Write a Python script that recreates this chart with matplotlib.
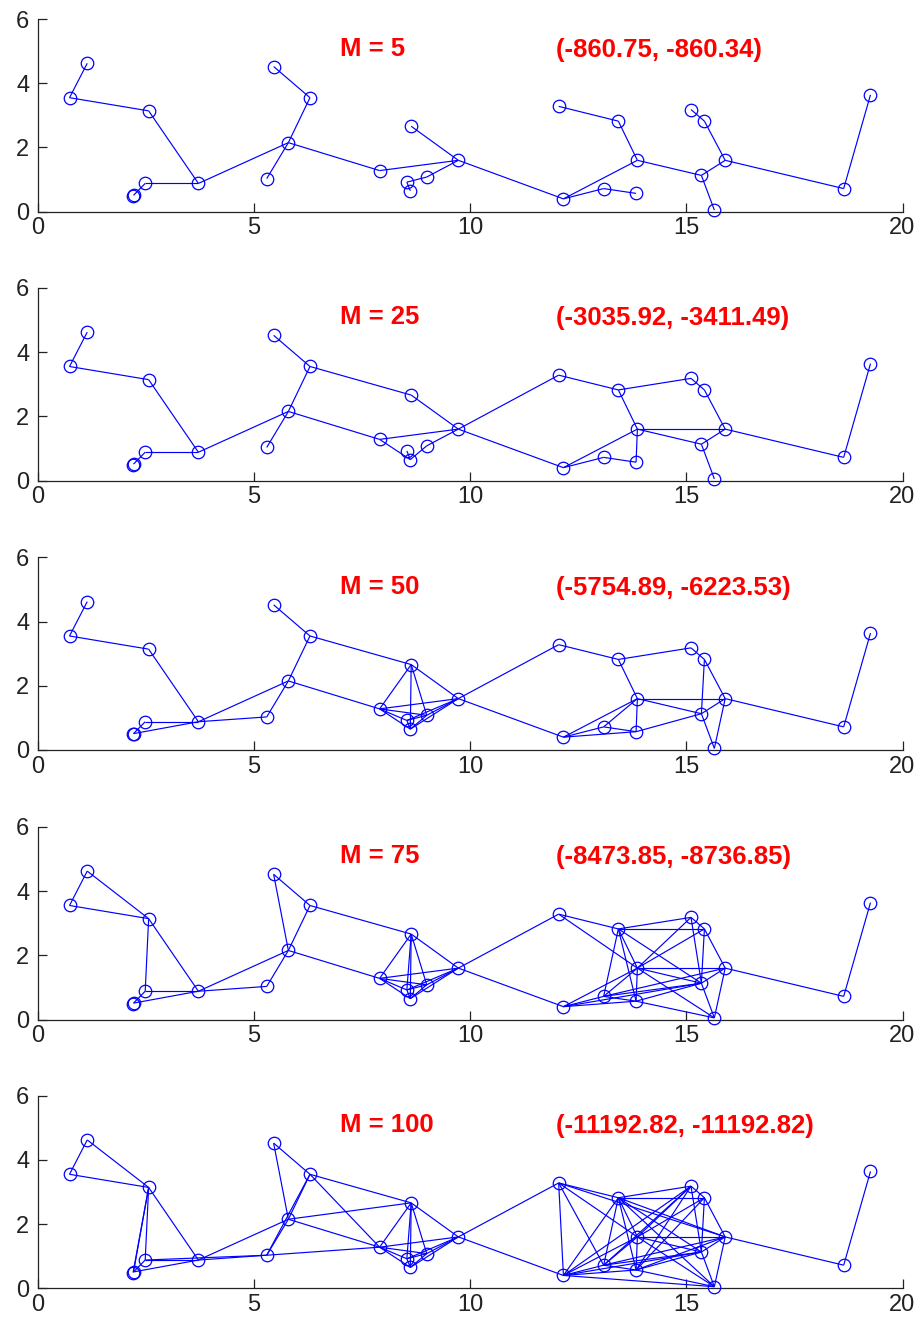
import matplotlib
matplotlib.use("Agg")
import matplotlib.pyplot as plt
from matplotlib.collections import LineCollection

plt.rcParams['font.family'] = ['Liberation Sans', 'DejaVu Sans']

# ---- data ----
node_names = ["A", "B", "C", "D", "E", "F", "F2", "G", "H", "I", "J", "K", "L", "N", "O", "P", "Q",
              "R", "S", "T", "U", "V", "W", "X", "Y", "Z", "AA", "AB", "AC", "AD"]
node_x = [1.15, 0.74, 2.57, 3.72, 2.49, 2.22, 2.21, 5.46, 6.30, 5.80, 5.30, 7.91, 8.64, 9.73, 9.00, 8.54, 8.62,
          12.05, 13.43, 13.87, 12.16, 13.09, 13.84, 15.11, 15.42, 15.90, 15.35, 15.65, 18.64, 19.26]
node_y = [4.62, 3.55, 3.14, 0.88, 0.88, 0.51, 0.49, 4.52, 3.55, 2.15, 1.03, 1.28, 2.66, 1.60, 1.08, 0.92, 0.65,
          3.28, 2.82, 1.60, 0.40, 0.72, 0.57, 3.18, 2.82, 1.60, 1.13, 0.05, 0.72, 3.64]

m_values = [5, 25, 50, 75, 100]
score_labels = ["(-860.75, -860.34)", "(-3035.92, -3411.49)", "(-5754.89, -6223.53)",
                "(-8473.85, -8736.85)", "(-11192.82, -11192.82)"]

edges_m5 = ["A-B", "B-C", "C-D", "D-E", "E-F", "D-I", "G-H", "H-I", "I-J", "I-K", "K-N", "L-N",
            "N-O", "O-P", "P-Q", "N-U", "U-T", "U-V", "V-W", "R-S", "S-T", "T-AA", "AA-Z", "Z-Y",
            "Y-X", "AA-AB", "Z-AC", "AC-AD"]
edges_m25 = ["A-B", "B-C", "C-D", "D-E", "E-F", "D-I", "G-H", "H-I", "I-J", "I-K", "H-L", "L-N",
             "K-N", "K-Q", "N-O", "O-Q", "P-Q", "N-R", "N-U", "R-S", "S-X", "S-T", "T-Z", "T-AA",
             "U-T", "U-V", "V-W", "W-T", "Y-Z", "Z-AA", "AA-AB", "Z-AC", "AC-AD", "X-Y"]
edges_m50 = ["A-B", "B-C", "C-D", "D-E", "E-F", "D-F", "D-I", "D-J", "G-H", "H-I", "I-J", "I-K",
             "H-L", "L-N", "L-K", "L-Q", "L-O", "K-N", "K-O", "K-P", "K-Q", "N-O", "N-P", "N-Q",
             "O-P", "O-Q", "P-Q", "N-R", "N-U",
             "R-S", "S-X", "S-T", "T-Z", "T-AA", "U-T", "U-V", "U-W", "V-T", "V-W", "W-T", "W-AA",
             "Y-AA", "Y-Z", "Z-AA", "Z-AB", "AA-AB", "Z-AC", "AC-AD", "X-Y"]
edges_m75 = ["A-B", "A-C", "B-C", "C-D", "C-E", "E-F", "D-F", "D-E", "D-I", "D-J", "G-H", "G-I",
             "H-I", "I-J", "I-K", "H-L", "L-N", "L-K", "L-Q", "L-O", "L-P", "K-N", "K-O", "K-P",
             "K-Q", "N-O", "N-P", "N-Q", "O-P", "O-Q", "P-Q", "N-R", "N-U",
             "R-S", "R-T", "S-X", "S-Y", "S-T", "S-V", "S-W", "S-AA", "X-T", "X-AA", "X-Y", "Y-T",
             "Y-Z", "Y-AA", "T-Z", "T-AA", "T-W", "T-V", "T-AB", "U-T", "U-V", "U-W", "U-AA",
             "V-W", "V-AA", "W-AA", "W-AB", "Z-AA", "Z-AB", "AA-AB", "V-Z", "Z-AC", "AC-AD"]
edges_m100 = ["A-B", "A-C", "B-C", "C-D", "C-E", "C-F", "C-F2", "E-F", "D-F", "D-E", "D-I", "D-J",
              "E-J", "J-K", "G-H", "G-I", "H-I", "H-J", "H-K", "I-J", "I-K", "I-L", "H-L", "L-N",
              "L-K", "L-Q", "L-O", "L-P", "K-N", "K-O", "K-P", "K-Q", "N-O", "N-P", "N-Q", "O-P",
              "O-Q", "P-Q", "N-R", "N-U",
              "R-S", "R-T", "R-U", "R-V", "R-Z", "S-X", "S-Y", "S-T", "S-V", "S-W", "S-AA", "S-Z",
              "S-AB", "U-S", "U-X", "U-T", "U-V", "U-W", "U-AA", "U-AB", "X-Y", "X-T", "X-AA",
              "X-V", "X-W", "Y-T", "Y-AA", "Y-Z", "Y-W", "T-Z", "T-AA", "T-W", "T-V", "T-AB",
              "Z-AA", "Z-AB", "Z-W", "Z-V", "AA-AB", "AA-V", "AA-W", "V-W", "W-AB", "Z-AC", "AC-AD"]
all_edges = [edges_m5, edges_m25, edges_m50, edges_m75, edges_m100]

x_ticks = [0, 5, 10, 15, 20]
y_ticks = [0, 2, 4, 6]

# ---- figure ----
W, H = 919, 1323
fig = plt.figure(figsize=(W / 100, H / 100), dpi=100)
blue = (0, 0, 1)
pos = {n: (x, y) for n, x, y in zip(node_names, node_x, node_y)}

left_px, right_px = 37.5, 902.5
bottoms_px = [211.7, 480.5, 750.0, 1019.5, 1288.3]
top_offset = 192.7  # pixel height of the 0..6 range

for i, (m, lab, edges) in enumerate(zip(m_values, score_labels, all_edges)):
    b = bottoms_px[i]
    ax = fig.add_axes([left_px / W, 1 - b / H, (right_px - left_px) / W, top_offset / H])
    segs = []
    for e in edges:
        a, c = e.split("-")
        segs.append([pos[a], pos[c]])
    ax.add_collection(LineCollection(segs, colors=[blue], linewidths=0.85, zorder=2))
    ax.plot(node_x, node_y, linestyle='none', marker='o', markersize=9,
            markerfacecolor='none', markeredgecolor=blue, markeredgewidth=0.9, zorder=3,
            clip_on=False)
    ax.set_xlim(0, 20)
    ax.set_ylim(0, 6)
    ax.set_xticks(x_ticks)
    ax.set_yticks(y_ticks)
    ax.spines['top'].set_visible(False)
    ax.spines['right'].set_visible(False)
    for s in ('left', 'bottom'):
        ax.spines[s].set_linewidth(0.9)
        ax.spines[s].set_color('#222222')
    ax.tick_params(direction='in', length=6.5, width=0.9, color='#222222',
                   labelsize=17, labelcolor='#222222')
    ax.tick_params(axis='x', pad=4)
    ax.tick_params(axis='y', pad=6)
    ax.text(7.0, 5.08, f"M = {m}", color='red', fontsize=18.5, fontweight='bold',
            ha='left', va='center')
    ax.text(12.0, 5.05, lab, color='red', fontsize=18.5, fontweight='bold',
            ha='left', va='center')

fig.savefig("out.png", dpi=100)
